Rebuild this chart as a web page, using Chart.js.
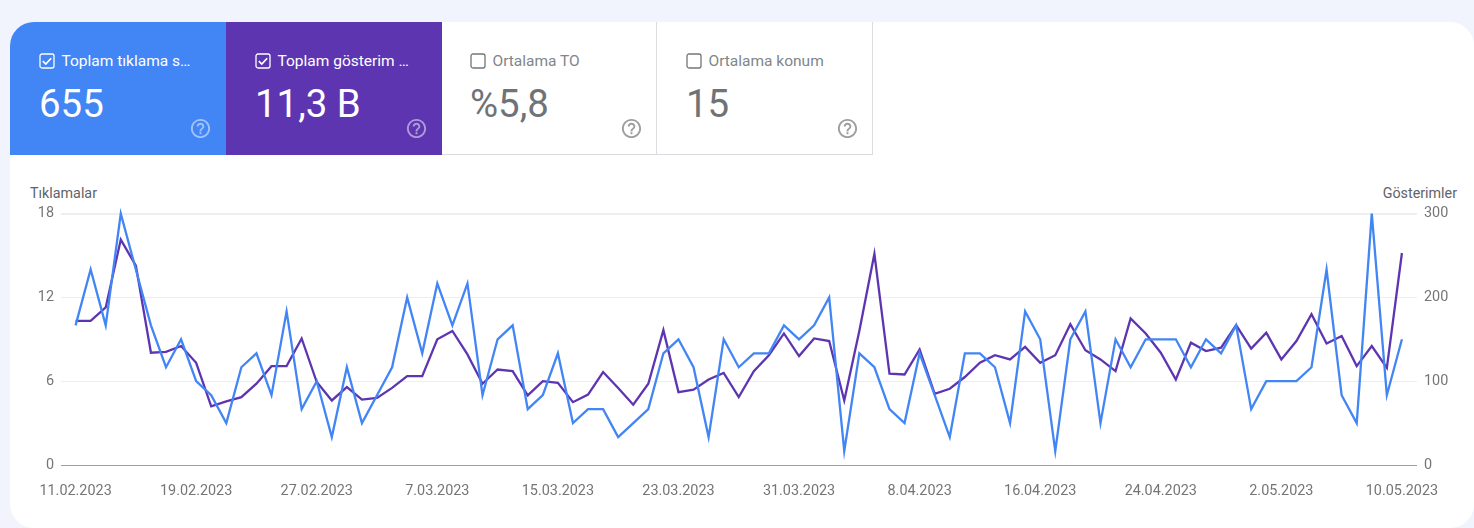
<!DOCTYPE html>
<html lang="tr">
<head>
<meta charset="utf-8">
<title>Performans</title>
<script src="https://cdn.jsdelivr.net/npm/chart.js@4"></script>
<style>
  html, body { margin: 0; padding: 0; }
  body { width: 1474px; height: 528px; background: #f1f4fd; overflow: hidden; position: relative; font-family: Roboto, sans-serif; }
  .panel { position: absolute; left: 10px; top: 22px; width: 1464px; height: 506px; background: #fff; border-radius: 24px; overflow: hidden; }
  .card { position: absolute; top: 0; width: 216px; height: 133px; box-sizing: border-box; }
  .card.blue { left: 0; background: #4285f4; color: #fff; }
  .card.purple { left: 216px; background: #5e35b1; color: #fff; }
  .card.plain { color: #5f6368; border-right: 1px solid #dadce0; border-bottom: 1px solid #dadce0; }
  .card .name { position: absolute; left: 51.5px; top: 29px; font-size: 15.5px; line-height: 20px; white-space: nowrap; }
  .card.plain .name { left: 50.5px; color: #80868b; }
  .card .num { position: absolute; left: 29px; top: 59px; font-size: 38.4px; line-height: 46px; white-space: nowrap; }
  .card.plain .num { left: 28px; color: #6f7377; }
  .card svg { position: absolute; }
  .box { left: 28.5px; top: 31px; width: 16px; height: 16px; }
  .help { left: 179px; top: 95px; width: 23px; height: 23px; }
  .card.plain .box { left: 27.5px; }
  .card.plain .help { left: 178px; }
  .card.plain.last .box { left: 28.5px; }
  .card.plain.last .name { left: 51.5px; }
  .card.plain.last .num { left: 29px; }
  .card.plain.last .help { left: 179px; }
  .axis-name { position: absolute; top: 184.5px; font-size: 14.3px; line-height: 16px; color: #5f6368; white-space: nowrap; }
  #chartWrap { position: absolute; left: 0; top: 197.5px; width: 1474px; height: 313px; }
</style>
</head>
<body>
<div class="panel">
  <div class="card blue">
    <svg class="box" viewBox="0 0 16 16"><rect x="1" y="1" width="14" height="14" rx="2" fill="none" stroke="#fff" stroke-width="1.3"/><path d="M3.8 8.2 6.8 11.1 12.2 5.2" fill="none" stroke="#fff" stroke-width="1.7"/></svg>
    <div class="name">Toplam tıklama s…</div>
    <div class="num">655</div>
    <svg class="help" viewBox="0 0 24 24"><path fill="#fff" fill-opacity=".5" d="M11 18h2v-2h-2v2zm1-16C6.48 2 2 6.48 2 12s4.48 10 10 10 10-4.48 10-10S17.52 2 12 2zm0 18c-4.41 0-8-3.59-8-8s3.59-8 8-8 8 3.59 8 8-3.59 8-8 8zm0-14c-2.21 0-4 1.79-4 4h2c0-1.1.9-2 2-2s2 .9 2 2c0 2-3 1.75-3 5h2c0-2.25 3-2.5 3-5 0-2.21-1.79-4-4-4z"/></svg>
  </div>
  <div class="card purple">
    <svg class="box" viewBox="0 0 16 16"><rect x="1" y="1" width="14" height="14" rx="2" fill="none" stroke="#fff" stroke-width="1.3"/><path d="M3.8 8.2 6.8 11.1 12.2 5.2" fill="none" stroke="#fff" stroke-width="1.7"/></svg>
    <div class="name">Toplam gösterim …</div>
    <div class="num">11,3 B</div>
    <svg class="help" viewBox="0 0 24 24"><path fill="#fff" fill-opacity=".5" d="M11 18h2v-2h-2v2zm1-16C6.48 2 2 6.48 2 12s4.48 10 10 10 10-4.48 10-10S17.52 2 12 2zm0 18c-4.41 0-8-3.59-8-8s3.59-8 8-8 8 3.59 8 8-3.59 8-8 8zm0-14c-2.21 0-4 1.79-4 4h2c0-1.1.9-2 2-2s2 .9 2 2c0 2-3 1.75-3 5h2c0-2.25 3-2.5 3-5 0-2.21-1.79-4-4-4z"/></svg>
  </div>
  <div class="card plain" style="left:432px;width:215px">
    <svg class="box" viewBox="0 0 16 16"><rect x="1" y="1" width="14" height="14" rx="2" fill="none" stroke="#757575" stroke-width="1.3"/></svg>
    <div class="name">Ortalama TO</div>
    <div class="num">%5,8</div>
    <svg class="help" viewBox="0 0 24 24"><path fill="#9e9e9e" d="M11 18h2v-2h-2v2zm1-16C6.48 2 2 6.48 2 12s4.48 10 10 10 10-4.48 10-10S17.52 2 12 2zm0 18c-4.41 0-8-3.59-8-8s3.59-8 8-8 8 3.59 8 8-3.59 8-8 8zm0-14c-2.21 0-4 1.79-4 4h2c0-1.1.9-2 2-2s2 .9 2 2c0 2-3 1.75-3 5h2c0-2.25 3-2.5 3-5 0-2.21-1.79-4-4-4z"/></svg>
  </div>
  <div class="card plain last" style="left:647px">
    <svg class="box" viewBox="0 0 16 16"><rect x="1" y="1" width="14" height="14" rx="2" fill="none" stroke="#757575" stroke-width="1.3"/></svg>
    <div class="name">Ortalama konum</div>
    <div class="num">15</div>
    <svg class="help" viewBox="0 0 24 24"><path fill="#9e9e9e" d="M11 18h2v-2h-2v2zm1-16C6.48 2 2 6.48 2 12s4.48 10 10 10 10-4.48 10-10S17.52 2 12 2zm0 18c-4.41 0-8-3.59-8-8s3.59-8 8-8 8 3.59 8 8-3.59 8-8 8zm0-14c-2.21 0-4 1.79-4 4h2c0-1.1.9-2 2-2s2 .9 2 2c0 2-3 1.75-3 5h2c0-2.25 3-2.5 3-5 0-2.21-1.79-4-4-4z"/></svg>
  </div>
</div>
<div class="axis-name" style="left:30px">Tıklamalar</div>
<div class="axis-name" style="right:17px">Gösterimler</div>
<div id="chartWrap"><canvas id="perfChart"></canvas></div>
<script>
// daily values, 11.02.2023 to 10.05.2023
const clicks = [10,14,10,18,14,10,7,9,6,5,3,7,8,5,11,4,6,2,7,3,5,7,12,8,13,10,13,5,9,10,4,5,8,3,4,4,2,3,4,8,9,7,2,9,7,8,8,10,9,10,12,1,8,7,4,3,8,5,2,8,8,7,3,11,9,1,9,11,3,9,7,9,9,9,7,9,8,10,4,6,6,6,7,14,5,3,18,5,9];
const impressions = [172,172,188,269,238,134,135,142,122,70,76,81,97,118,118,151,99,77,93,78,80,92,106,106,150,160,132,97,114,112,83,100,98,75,84,111,92,72,97,161,87,90,102,110,81,112,131,157,130,151,148,77,160,252,109,108,138,85,91,105,122,131,126,141,122,131,168,137,126,112,175,157,134,102,146,136,140,167,139,158,126,148,180,145,154,118,142,116,253];
// x tick labels, one every 8 days
const dateLabels = ['11.02.2023','19.02.2023','27.02.2023','7.03.2023','15.03.2023','23.03.2023','31.03.2023','8.04.2023','16.04.2023','24.04.2023','2.05.2023','10.05.2023'];
const clickTicks = [0,6,12,18];
const impressionTicks = [0,100,200,300];

const tickFont = { family: 'Roboto', size: 14.4 };
const tickColor = '#757575';

function toPoints(values){
    return values.map((v, i) => ({ x: i, y: v }));
}

function gridColor(ctx){
    if(ctx.tick.value === 0) return '#9aa0a6';
    return '#edeef0';
}

new Chart(document.getElementById('perfChart'), {
    type: 'line',
    data: {
        datasets: [
            { label: 'Tıklamalar', data: toPoints(clicks), yAxisID: 'y', borderColor: '#4285f4', borderWidth: 2.3, pointRadius: 0, tension: 0, clip: false },
            { label: 'Gösterimler', data: toPoints(impressions), yAxisID: 'y1', borderColor: '#5e35b1', borderWidth: 2.3, pointRadius: 0, tension: 0, clip: false }
        ]
    },
    options: {
        responsive: true,
        maintainAspectRatio: false,
        animation: false,
        layout: { padding: 0 },
        plugins: { legend: { display: false }, tooltip: { enabled: false } },
        scales: {
            x: {
                type: 'linear',
                min: -1,
                max: 89,
                afterBuildTicks: axis => { axis.ticks = dateLabels.map((d, i) => ({ value: i * 8 })); },
                afterFit: axis => { axis.height = 46; },
                grid: { display: false },
                border: { display: false },
                ticks: {
                    autoSkip: false,
                    maxRotation: 0,
                    padding: 10,
                    color: tickColor,
                    font: tickFont,
                    callback: v => dateLabels[v / 8]
                }
            },
            y: {
                min: 0,
                max: 18,
                afterBuildTicks: axis => { axis.ticks = clickTicks.map(v => ({ value: v })); },
                afterFit: axis => { axis.width = 60.5; },
                grid: {
                    drawTicks: false,
                    color: gridColor,
                    lineWidth: ctx => ctx.tick.value === 18 ? 2 : 1
                },
                border: { display: false },
                ticks: { padding: 6.5, color: tickColor, font: tickFont }
            },
            y1: {
                position: 'right',
                min: 0,
                max: 300,
                afterBuildTicks: axis => { axis.ticks = impressionTicks.map(v => ({ value: v })); },
                afterFit: axis => { axis.width = 57; },
                grid: { display: false, drawTicks: false },
                border: { display: false },
                ticks: { padding: 7, color: tickColor, font: tickFont }
            }
        }
    }
});
</script>
</body>
</html>
